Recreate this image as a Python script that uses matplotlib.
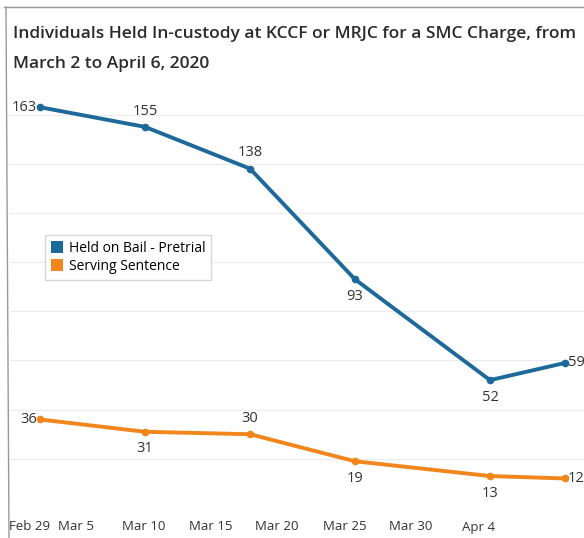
import matplotlib.pyplot as plt
from matplotlib.patches import Patch
from matplotlib.lines import Line2D

# days counted from Feb 29, 2020
days = [2, 9, 16, 23, 32, 37]            # Mar 2, Mar 9, Mar 16, Mar 23, Apr 1, Apr 6
pretrial = [163, 155, 138, 93, 52, 59]
sentence = [36, 31, 30, 19, 13, 12]

pretrial_pos = ["left", "above", "above", "below", "below", "right"]
sentence_pos = ["left", "below", "above", "below", "below", "right"]

tick_days = [1.3, 4.4, 8.9, 13.4, 17.8, 22.3, 26.7, 31.2]
tick_labels = ["Feb 29", "Mar 5", "Mar 10", "Mar 15", "Mar 20", "Mar 25", "Mar 30", "Apr 4"]

blue = "#1d6a9a"
orange = "#f0861c"
text_col = "#333333"

plt.rcParams['font.family'] = ['Open Sans', 'DejaVu Sans']

fig = plt.figure(figsize=(5.84, 5.38), dpi=100)
W, H = 584, 538
ax = fig.add_axes([10 / W, 30 / H, 574 / W, 418 / H])

ax.set_xlim(0, 574 / 15)
ax.set_ylim(0, 170)

for y in range(0, 170, 20):
    ax.axhline(y, color="#ececec", lw=0.8, zorder=0)

ax.plot(days, pretrial, color=blue, lw=2.8, marker="o", ms=4.5, zorder=3, clip_on=False)
ax.plot(days, sentence, color=orange, lw=2.8, marker="o", ms=4.5, zorder=3, clip_on=False)


def label_points(xs, ys, where):
    for x, y, w in zip(xs, ys, where):
        if w == "left":
            kw = dict(xytext=(-2, 0), ha="right", va="center")
        elif w == "right":
            kw = dict(xytext=(2, 0), ha="left", va="center")
        elif w == "above":
            kw = dict(xytext=(0, 6), ha="center", va="bottom")
        else:
            kw = dict(xytext=(0, -7), ha="center", va="top")
        ax.annotate(str(y), (x, y), textcoords="offset points", fontsize=10.5,
                    color=text_col, annotation_clip=False, **kw)


label_points(days, pretrial, pretrial_pos)
label_points(days, sentence, sentence_pos)

ax.set_xticks(tick_days)
ax.set_xticklabels(tick_labels, fontsize=9.5, color=text_col)
ax.tick_params(axis="x", length=0, pad=9)
ax.set_yticks([])
for s in ax.spines.values():
    s.set_visible(False)

handles = [Patch(facecolor=blue, edgecolor="none"), Patch(facecolor=orange, edgecolor="none")]
ax.legend(handles, ["Held on Bail - Pretrial", "Serving Sentence"],
          loc="upper left", bbox_to_anchor=(35 / 574, 1 - (235 - 90) / 418),
          fontsize=10, frameon=True, fancybox=False, edgecolor="#cccccc",
          handlelength=0.9, handleheight=0.9, handletextpad=0.4,
          borderpad=0.4, labelspacing=0.25, borderaxespad=0)

fig.text(13 / W, 1 - 34 / H,
         "Individuals Held In-custody at KCCF or MRJC for a SMC Charge, from",
         fontsize=12.5, fontweight="semibold", color="#2b2b2b", va="center")
fig.text(13 / W, 1 - 64 / H, "March 2 to April 6, 2020",
         fontsize=12.5, fontweight="semibold", color="#2b2b2b", va="center")

# outer frame of the graphic
fig.add_artist(Line2D([4 / W, 1], [1 - 7 / H, 1 - 7 / H], color="#999999", lw=1))
fig.add_artist(Line2D([6 / W, 9 / W], [1 - 7 / H, 0], color="#999999", lw=1))

fig.savefig("out.png", dpi=100)
